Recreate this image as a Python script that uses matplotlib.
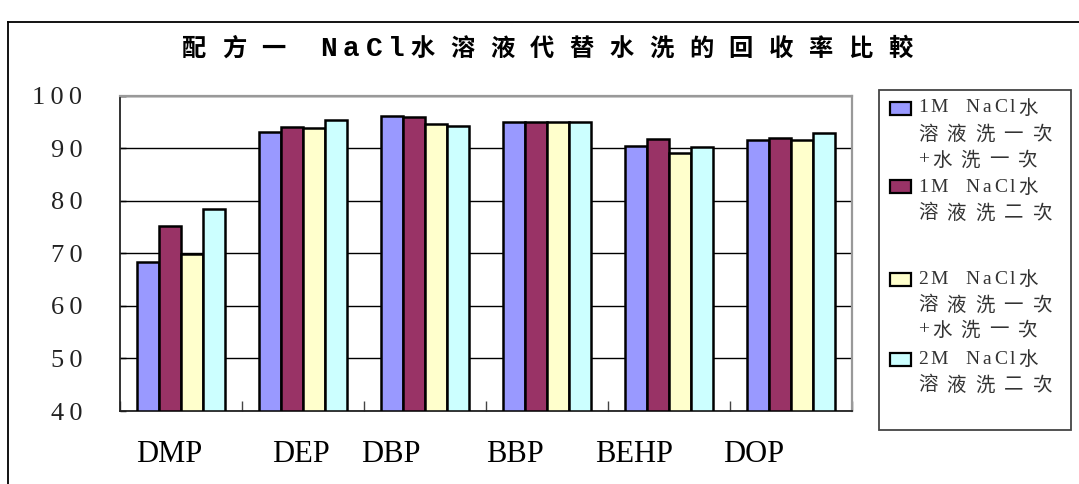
import numpy as np
import matplotlib
matplotlib.use("Agg")
import matplotlib.pyplot as plt
from matplotlib.lines import Line2D
from matplotlib.patches import Rectangle

# ---- data -------------------------------------------------------------
categories = ["DMP", "DEP", "DBP", "BBP", "BEHP", "DOP"]

series_labels = [
    ["1M  NaCl水", "溶液洗一次", "+水洗一次"],
    ["1M  NaCl水", "溶液洗二次"],
    ["2M  NaCl水", "溶液洗一次", "+水洗一次"],
    ["2M  NaCl水", "溶液洗二次"],
]

m1_wash_water = [68.3, 93.2, 96.2, 95.0, 90.4, 91.5]
m1_wash_twice = [75.3, 94.1, 96.0, 95.0, 91.8, 92.0]
m2_wash_water = [69.8, 93.9, 94.7, 95.0, 89.2, 91.6]
m2_wash_twice = [78.5, 95.3, 94.3, 95.1, 90.3, 93.0]

y_ticks = [40, 50, 60, 70, 80, 90, 100]
title_text = "配方一 NaCl水溶液代替水洗的回收率比較"

# ---- styling / layout -----------------------------------------------
colors = ["#9999FF", "#993366", "#FFFFCC", "#CCFFFF"]
W, H = 1079, 484
DPI = 100
CJK = "Noto Sans CJK TC"
SERIF = "Liberation Serif"

# category label anchor points along the x axis (category units)
label_pos = [-0.10, 0.98, 1.72, 2.74, 3.71, 4.69]

fig = plt.figure(figsize=(W / DPI, H / DPI), dpi=DPI)
fig.patch.set_facecolor("white")
renderer = fig.canvas.get_renderer()


def px_axes(left, top, right, bottom):
    return [left / W, 1 - bottom / H, (right - left) / W, (bottom - top) / H]


def is_cjk(ch):
    return ord(ch) >= 0x2E80


def spaced_text(x, y, s, size, track_latin, track_cjk, latin_family,
                cjk_family=CJK, weight="normal", color="black",
                space_px=None, latin_size=None):
    """Draw a string one glyph at a time with extra letter spacing.
    x, y are in figure pixels measured from the top-left corner."""
    size_px = size * DPI / 72
    if latin_size is None:
        latin_size = size
    for ch in s:
        if ch == " ":
            x += space_px if space_px is not None else 0.25 * size_px
            continue
        cjk = is_cjk(ch)
        fam = [cjk_family, "DejaVu Sans"] if cjk else [latin_family, cjk_family]
        t = fig.text(x / W, 1 - y / H, ch, fontsize=size if cjk else latin_size,
                     family=fam, weight=weight, color=color,
                     ha="left", va="center")
        w = t.get_window_extent(renderer).width
        x += w + (track_cjk if cjk else track_latin)


# ---- axes and bars ---------------------------------------------------
ax = fig.add_axes(px_axes(120, 95.8, 852, 411))
series = [m1_wash_water, m1_wash_twice, m2_wash_water, m2_wash_twice]
x = np.arange(len(categories))
bw = 0.18
for i, (vals, col) in enumerate(zip(series, colors)):
    ax.bar(x + (i - 1.5) * bw, np.array(vals) - 40, bw, bottom=40,
           color=col, edgecolor="black", linewidth=1.8, zorder=3)

ax.set_xlim(-0.5, len(categories) - 0.5)
ax.set_ylim(40, 100)

ax.set_yticks(y_ticks)
ax.set_yticklabels(["\u2009".join(str(v)) for v in y_ticks],
                   family=[SERIF, "DejaVu Sans"], fontsize=19, color="#222222")
ax.tick_params(axis="y", direction="in", length=4, width=1, pad=27,
               color="black")
ax.yaxis.grid(True, color="black", linewidth=1.0, zorder=1)

ax.set_xticks(label_pos)
ax.set_xticklabels(categories, family=SERIF, fontsize=22, color="black")
ax.tick_params(axis="x", which="major", length=0, pad=21)
ax.set_xticks(np.arange(len(categories) + 1) - 0.5, minor=True)
ax.tick_params(axis="x", which="minor", direction="in", length=7, width=1,
               color="#444444")

for side in ("left", "bottom"):
    ax.spines[side].set_color("#222222")
    ax.spines[side].set_linewidth(1.3)
for side in ("top", "right"):
    ax.spines[side].set_color("#999999")
    ax.spines[side].set_linewidth(1.6)
ax.set_axisbelow(True)

# ---- outer chart frame -----------------------------------------------
fig.add_artist(Line2D([8 / W, 8 / W], [0, 1 - 22 / H], color="black",
                      linewidth=1.3, transform=fig.transFigure))
fig.add_artist(Line2D([8 / W, 1], [1 - 22 / H, 1 - 22 / H], color="black",
                      linewidth=1.3, transform=fig.transFigure))

# ---- title -----------------------------------------------------------
spaced_text(182, 49, title_text, 17.5, track_latin=6, track_cjk=15.5,
            latin_family="Liberation Mono", weight="bold", color="black",
            space_px=19, latin_size=20)

# ---- legend ----------------------------------------------------------
fig.add_artist(Rectangle((879 / W, 1 - 430 / H), (1071 - 879) / W,
                         (430 - 90) / H, transform=fig.transFigure,
                         facecolor="white", edgecolor="#444444",
                         linewidth=1.3))
entry_rows = [[108, 134, 160], [187, 213], [279, 305, 330], [359, 385]]
for lines, rows, col in zip(series_labels, entry_rows, colors):
    fig.add_artist(Rectangle((890 / W, 1 - (rows[0] + 6.5) / H), 21 / W,
                             13 / H, transform=fig.transFigure,
                             facecolor=col, edgecolor="black",
                             linewidth=1.6))
    for line, yy in zip(lines, rows):
        spaced_text(918, yy, line, 14, track_latin=3, track_cjk=9,
                    latin_family=SERIF, color="#333333", space_px=7,
                    latin_size=14)

fig.savefig("out.png", dpi=DPI, facecolor="white")
